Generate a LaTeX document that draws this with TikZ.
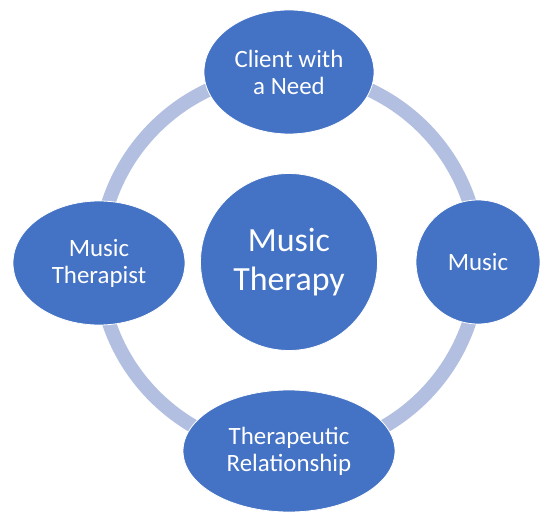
\documentclass[tikz,border=0pt]{standalone}
\usepackage{fontspec}
\setmainfont{Carlito}
\usepackage{xcolor}
\usetikzlibrary{shapes.geometric}
\definecolor{nodeblue}{RGB}{68,114,196}
\definecolor{ringblue}{RGB}{178,191,225}

\begin{document}
\begin{tikzpicture}[x=1bp,y=-1bp]
\tikzstyle{blob} =[ellipse, fill = nodeblue, draw = white, line width=0.8bp, text=white, align=center, inner sep=0pt, outer sep=0pt]
\tikzstyle{outer} =[blob, font=\fontsize{25}{27}\selectfont]
\tikzstyle{ring} =[draw = ringblue, line width=14bp]
\useasboundingbox (0,0) rectangle (550,524);

\node[blob,minimum width=177bp,minimum height=177bp,font=\fontsize{34}{39}\selectfont](hub) at (289,262){Music\\Therapy};
\draw [ring] (hub) circle (190);

\node[outer,minimum width=170bp,minimum height=124bp](client) at (289,72){Client with\\a Need};
\node[outer,minimum width=124bp,minimum height=124bp](music) at (478,262){Music};
\node[outer,minimum width=212bp,minimum height=122bp](relation) at (289,451){Therapeutic\\Relationship};
\node[outer,minimum width=172bp,minimum height=124bp](therapist) at (99,263){Music\\Therapist};
\end{tikzpicture}
\end{document}
